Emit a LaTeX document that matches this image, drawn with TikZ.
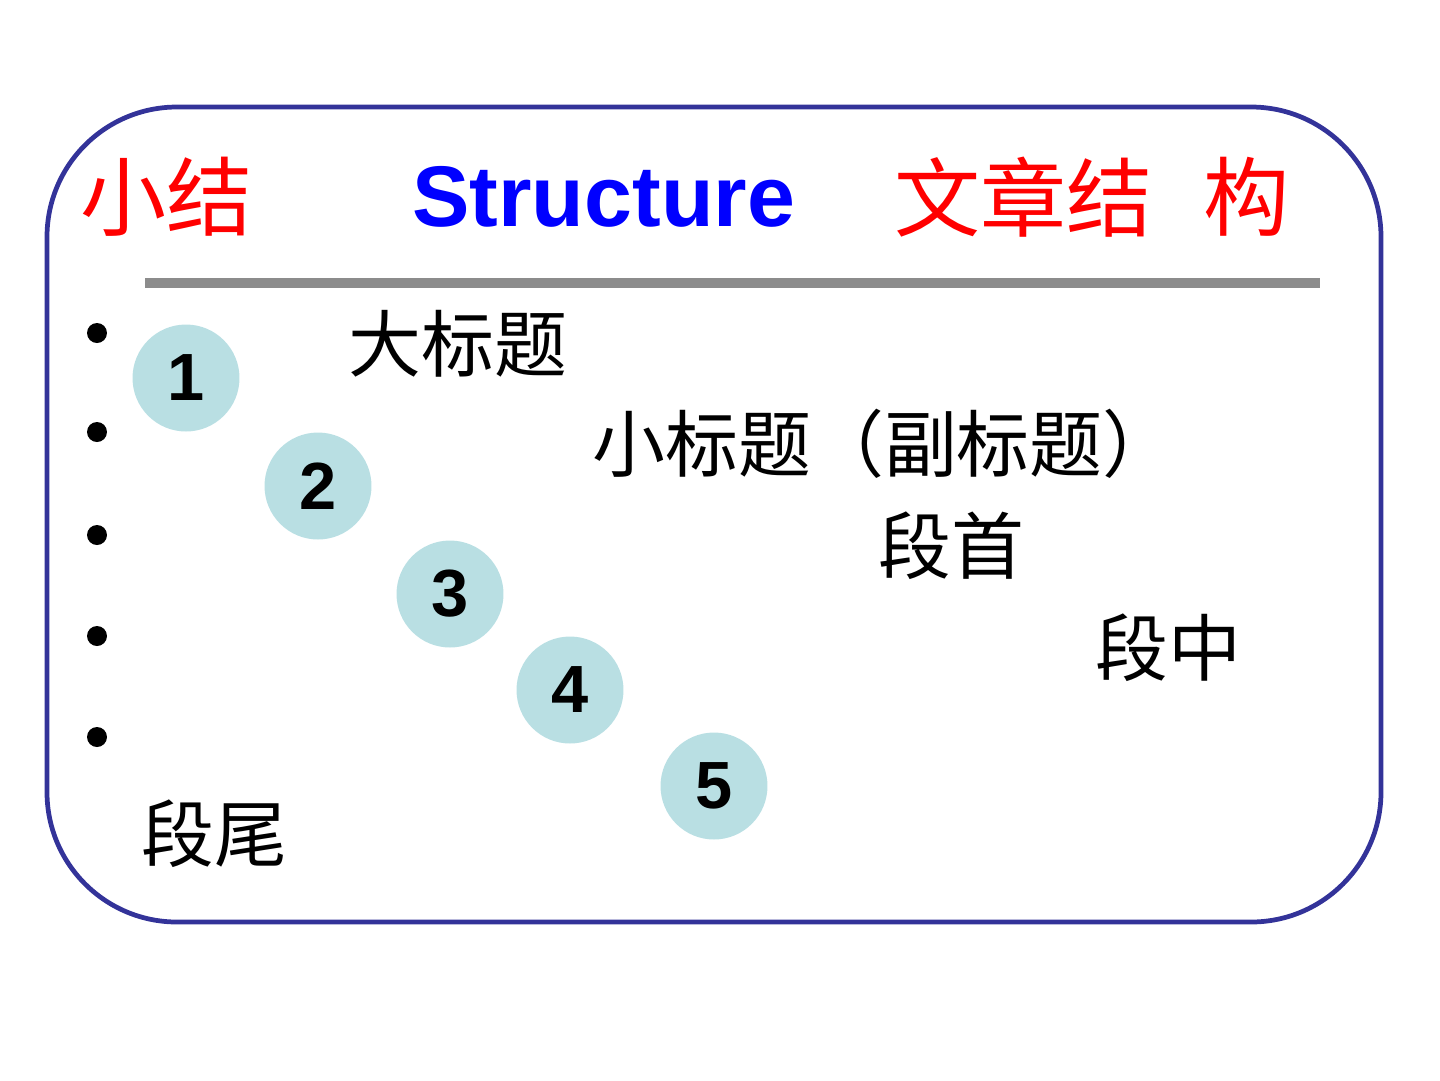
\documentclass[tikz,border=0pt]{standalone}
\usepackage{fontspec}
\setmainfont{Liberation Sans}
\newfontfamily\cjk{Noto Sans CJK SC}
\usetikzlibrary{positioning}
\definecolor{frameblue}{HTML}{333399}
\definecolor{rulegray}{HTML}{8C8C8C}
\definecolor{titlered}{HTML}{FF0000}
\definecolor{titleblue}{HTML}{0000FF}
\definecolor{bubble}{HTML}{B9DFE3}
\tikzset{
  cjktitle/.style={font=\cjk\fontsize{49}{52}\selectfont, text=titlered, inner sep=0pt, anchor=west},
  entitle/.style={font=\bfseries\fontsize{49}{52}\selectfont, text=titleblue, inner sep=0pt, anchor=west},
  item/.style={font=\cjk\fontsize{41.5}{44}\selectfont, text=black, inner sep=0pt, anchor=west},
  num/.style={circle, fill=bubble, minimum size=2.14cm, inner sep=0pt, font=\bfseries\fontsize{38}{40}\selectfont},
  dot/.style={circle, fill=black, minimum size=0.4cm, inner sep=0pt},
}

\begin{document}
\begin{tikzpicture}[x=0.02cm, y=-0.02cm]
  \useasboundingbox (0,0) rectangle (1440,1080);

  % frame and rule
  \draw[frameblue, line width=2.7pt, rounded corners=2.6cm] (47,107) rectangle (1381,922);
  \fill[rulegray] (145,278) rectangle (1320,288);

  % title line
  \node[cjktitle] (T1) at (80,197) {小结};
  \node[entitle] (T2) at (412,197) {Structure};
  \node[cjktitle] (T3) at (894,197) {文章结};
  \node[cjktitle, right=1.0cm of T3] (T4) {构};

  % bullets
  \foreach \i/\y in {1/333,2/432,3/535,4/636,5/737} {
    \node[dot] (B\i) at (97,\y) {};
  }

  % numbered bubbles
  \foreach \i/\x/\y in {1/186/378,2/318/486,3/450/594,4/570/690,5/714/786} {
    \node[num] (N\i) at (\x,\y) {\i};
  }

  % items
  \node[item] (I1) at (348,344) {大标题};
  \node[item] (I2) at (592,444) {小标题（副标题）};
  \node[item] (I3) at (878,546) {段首};
  \node[item] (I4) at (1095,648) {段中};
  \node[item] (I5) at (141,834) {段尾};
\end{tikzpicture}
\end{document}
